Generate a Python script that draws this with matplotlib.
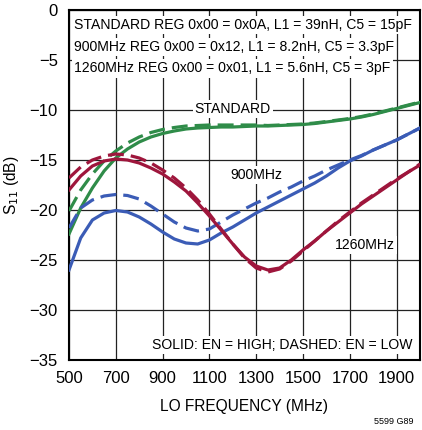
import numpy as np
import matplotlib.pyplot as plt
import matplotlib.font_manager as fm

# --- DATA ---
freq = np.arange(500, 2001, 50)

std_high = [-22.4, -19.8, -17.8, -16.1, -14.8, -13.9, -13.2, -12.7, -12.35, -12.1, -11.9,
            -11.8, -11.75, -11.7, -11.7, -11.65, -11.6, -11.6, -11.55, -11.5, -11.45,
            -11.35, -11.2, -11.05, -10.9, -10.7, -10.45, -10.15, -9.85, -9.55, -9.25]
std_low = [-20.1, -18.0, -16.4, -15.1, -14.1, -13.3, -12.7, -12.25, -11.95, -11.75, -11.6,
           -11.55, -11.5, -11.5, -11.5, -11.5, -11.5, -11.55, -11.5, -11.45, -11.4,
           -11.3, -11.15, -11.0, -10.85, -10.65, -10.4, -10.1, -9.8, -9.5, -9.2]
mhz1260_high = [-18.0, -16.6, -15.6, -15.1, -14.9, -15.0, -15.3, -15.8, -16.4, -17.2, -18.1,
                -19.3, -20.6, -22.0, -23.4, -24.7, -25.6, -26.0, -25.8, -25.0, -24.0,
                -23.1, -22.1, -21.2, -20.3, -19.4, -18.6, -17.8, -17.0, -16.2, -15.5]
mhz1260_low = [-16.8, -15.7, -15.0, -14.6, -14.4, -14.5, -14.8, -15.3, -16.0, -16.8, -17.8,
               -19.0, -20.4, -21.9, -23.4, -24.8, -25.8, -26.2, -25.9, -25.1, -24.1,
               -23.1, -22.1, -21.1, -20.2, -19.3, -18.5, -17.7, -16.9, -16.2, -15.4]
mhz900_high = [-26.0, -22.8, -21.0, -20.3, -20.05, -20.2, -20.7, -21.4, -22.2, -22.9, -23.3,
               -23.4, -23.0, -22.3, -21.7, -21.0, -20.3, -19.7, -19.1, -18.5, -17.9,
               -17.3, -16.6, -15.8, -15.1, -14.6, -14.0, -13.5, -13.0, -12.4, -11.8]
mhz900_low = [-21.8, -19.8, -19.0, -18.6, -18.45, -18.55, -18.9, -19.6, -20.4, -21.2, -21.8,
              -22.1, -21.9, -21.2, -20.5, -19.9, -19.3, -18.8, -18.2, -17.7, -17.1,
              -16.6, -16.0, -15.5, -15.0, -14.55, -14.0, -13.5, -13.0, -12.4, -11.8]

x_ticks = [500, 700, 900, 1100, 1300, 1500, 1700, 1900]
y_ticks = [0, -5, -10, -15, -20, -25, -30, -35]

box_lines = ["STANDARD REG 0x00 = 0x0A, L1 = 39nH, C5 = 15pF",
             "900MHz REG 0x00 = 0x12, L1 = 8.2nH, C5 = 3.3pF",
             "1260MHz REG 0x00 = 0x01, L1 = 5.6nH, C5 = 3pF"]

GREEN = '#2f8c49'
BLUE = '#3b5cb6'
RED = '#9e163c'

# narrow font if there is one, otherwise Arial-like at a smaller size
avail = {f.name for f in fm.fontManager.ttflist}
if 'Liberation Sans Narrow' in avail:
    plt.rcParams['font.family'] = ['Liberation Sans Narrow', 'DejaVu Sans']
    FS, TICK_FS, LAB_FS = 13, 14, 14
else:
    plt.rcParams['font.family'] = ['Liberation Sans', 'DejaVu Sans']
    FS, TICK_FS, LAB_FS = 10.1, 12, 11.2

fig = plt.figure(figsize=(4.22, 4.30), dpi=100)
ax = fig.add_axes([69 / 422, 1 - 360 / 430, 351 / 422, 350 / 430])

ax.set_xlim(500, 2000)
ax.set_ylim(-35, 0)
ax.set_xticks(x_ticks)
ax.set_yticks(y_ticks)
ax.set_yticklabels([str(v).replace('-', '\u2212') for v in y_ticks])
ax.grid(True, color='#222222', linewidth=0.9, zorder=0)
ax.tick_params(length=0, labelsize=TICK_FS)
ax.tick_params(axis='x', pad=8)
ax.tick_params(axis='y', pad=8)
for s in ax.spines.values():
    s.set_linewidth(1.5)

lw = 2.3
dash = (0, (5, 2.2))
ax.plot(freq, std_high, color=GREEN, lw=lw, zorder=3)
ax.plot(freq, std_low, color=GREEN, lw=lw, ls=dash, zorder=3)
ax.plot(freq, mhz900_high, color=BLUE, lw=lw, zorder=3)
ax.plot(freq, mhz900_low, color=BLUE, lw=lw, ls=dash, zorder=3)
ax.plot(freq, mhz1260_high, color=RED, lw=lw, zorder=3)
ax.plot(freq, mhz1260_low, color=RED, lw=lw, ls=dash, zorder=3)

bg = dict(facecolor='white', edgecolor='none', pad=1.5)
for i, line in enumerate(box_lines):
    ax.text(0.015, 0.957 - i * 0.062, line, transform=ax.transAxes, fontsize=FS,
            ha='left', va='center', bbox=bg, zorder=4)

ax.text(1200, -9.9, "STANDARD", fontsize=FS, ha='center', va='center', bbox=bg, zorder=4)
ax.text(1300, -16.5, "900MHz", fontsize=FS, ha='center', va='center', bbox=bg, zorder=4)
ax.text(1765, -23.5, "1260MHz", fontsize=FS, ha='center', va='center', bbox=bg, zorder=4)
ax.text(0.98, -33.5, "SOLID: EN = HIGH; DASHED: EN = LOW", transform=ax.get_yaxis_transform(),
        fontsize=FS, ha='right', va='center', bbox=bg, zorder=4)

ax.set_xlabel("LO FREQUENCY (MHz)", fontsize=LAB_FS, labelpad=9)
ax.set_ylabel("S$_{11}$ (dB)", fontsize=LAB_FS, labelpad=6)

fig.text(413 / 422, 1 - 422 / 430, "5599 G89", fontsize=6.5, ha='right', va='center')

fig.savefig("out.png", dpi=100)
